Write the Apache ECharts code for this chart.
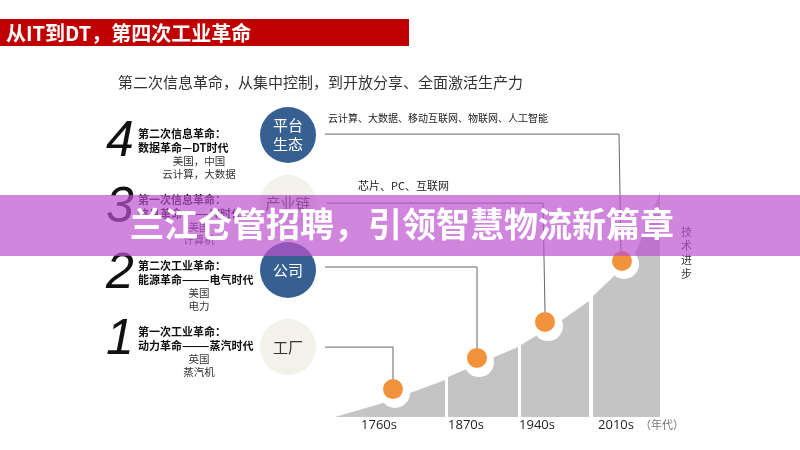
<!DOCTYPE html>
<html>
<head>
<meta charset="utf-8">
<script src="https://cdn.jsdelivr.net/npm/echarts@6/dist/echarts.min.js"></script>
<style>
html, body { margin: 0; padding: 0; background: #fff; }
#main { width: 800px; height: 450px; }
</style>
</head>
<body>
<div id="main"></div>
<script>
// x = position along the axis (0-100), y = technology level (0-100)
var band1 = [[18.75, 0], [30.75, 4.7], [37.5, 8], [46.25, 12.3]];
var band2 = [[47, 13.3], [64.5, 23.3]];
var band3 = [[65.25, 24], [75.5, 32.3], [82.25, 38.7]];
var band4 = [[83.25, 40.3], [88.25, 46.7], [94.25, 55.7], [100, 75]];
var milestones = [[33.25, 9.3], [54.25, 19.7], [71.25, 31.7], [90.5, 52]];
var halos = [[33.75, 8], [54.75, 18.3], [72, 30.3], [91, 51]];

var decadeLabels = ['1760s', '1870s', '1940s', '2010s'];
var decadeTicks = [29.75, 51.5, 69.25, 89];

var stageNames = ['平台\n生态', '产业链', '公司', '工厂'];
var stageLevels = [94, 71.3, 49, 23.3];
var stageX = 7;

var leader4 = [[16.25, 94.3], [89.75, 94.3], [90.25, 54]];
var leader3 = [[16.75, 71.3], [70.75, 71.3], [71.25, 35]];
var leader2 = [[16.25, 50], [54.25, 50], [54.25, 22.3]];
var leader1 = [[16.25, 23.3], [33.25, 23.3], [33.25, 12.3]];

var titleText = '从IT到DT，第四次工业革命';
var subtitleText = '第二次信息革命，从集中控制，到开放分享、全面激活生产力';
var headlineText = '兰江仓管招聘，引领智慧物流新篇章';
var topNote = '云计算、大数据、移动互联网、物联网、人工智能';
var secondNote = '芯片、PC、互联网';
var revolutions = [
	['4', '第二次信息革命：', '数据革命—DT时代', '美国，中国', '云计算，大数据'],
	['3', '第一次信息革命：', '信息革命———IT时代', '美国', '计算机'],
	['2', '第二次工业革命：', '能源革命———电气时代', '美国', '电力'],
	['1', '第一次工业革命：', '动力革命———蒸汽时代', '英国', '蒸汽机']
];

var cjk = '"Noto Sans CJK SC", sans-serif';
var revolutionTop = [134, 200, 266, 332];

function text(str, x, y, size, color, extra) {
	var style = { text: str, x: x, y: y, fill: color, font: size + 'px ' + cjk, textVerticalAlign: 'middle' };
	for (var k in extra) style[k] = extra[k];
	return { type: 'text', z: 5, silent: true, style: style };
}

var graphics = [
	{ type: 'rect', z: 5, shape: { x: 0, y: 19, width: 409, height: 27 }, style: { fill: '#C00000' } },
	text(titleText, 6, 33, 20, '#fff', { font: 'bold 20px ' + cjk }),
	text(subtitleText, 118, 82, 15, '#333'),
	text(topNote, 328, 118, 10, '#222'),
	text(secondNote, 358, 186, 11, '#222'),
	text('技\n术\n进\n步', 681, 253, 11, '#333', { lineHeight: 14 }),
	text('（年代）', 640, 425, 11, '#777')
];
revolutions.forEach(function (r, i) {
	var top = revolutionTop[i];
	graphics.push(text(r[0], 106, top + 8, 50, '#111', { font: 'italic 50px "Liberation Sans", sans-serif' }));
	graphics.push(text(r[1], 138, top, 11, '#111', { font: 'bold 11px ' + cjk }));
	graphics.push(text(r[2], 138, top + 14, 11, '#111', { font: 'bold 11px ' + cjk }));
	graphics.push(text(r[3], 199, top + 27, 10.5, '#333', { textAlign: 'center' }));
	graphics.push(text(r[4], 199, top + 40, 10.5, '#333', { textAlign: 'center' }));
});
graphics.push({ type: 'rect', z: 50, silent: true, shape: { x: 0, y: 195, width: 800, height: 61 }, style: { fill: 'rgba(186,83,205,0.7)' } });
graphics.push(text(headlineText, 130, 224, 34, '#fff', { font: 'bold 34px ' + cjk }));
graphics[graphics.length - 1].z = 51;

function area(data) {
	return {
		type: 'line', data: data, symbol: 'none', z: 1,
		lineStyle: { width: 0 }, itemStyle: { color: '#C4C4C4' },
		areaStyle: { color: '#C4C4C4', opacity: 1 }
	};
}
function leader(data) {
	return {
		type: 'line', data: data, symbol: 'none', z: 3, clip: false,
		lineStyle: { width: 1, color: '#666' }
	};
}

var stageData = stageNames.map(function (name, i) {
	var blue = i == 0 || i == 2;
	return {
		value: [stageX, stageLevels[i]],
		name: name,
		itemStyle: { color: blue ? '#366092' : '#F2F1EA' },
		label: { color: blue ? '#fff' : '#333' }
	};
});

var chart = echarts.init(document.getElementById('main'));
chart.setOption({
	animation: false,
	backgroundColor: '#fff',
	grid: { left: 260, right: 140, top: 117, bottom: 33 },
	xAxis: {
		type: 'value', min: 0, max: 100,
		splitLine: { show: false },
		axisLine: { show: false },
		axisTick: { show: false },
		axisLabel: {
			customValues: decadeTicks,
			color: '#222', fontSize: 13, margin: 2,
			fontFamily: '"Open Sans", sans-serif',
			formatter: function (v) {
				return decadeLabels[decadeTicks.indexOf(v)];
			}
		}
	},
	yAxis: { type: 'value', min: 0, max: 100, show: false },
	series: [
		area(band1), area(band2), area(band3), area(band4),
		{
			type: 'scatter', data: halos, symbolSize: 30, z: 2, clip: false,
			itemStyle: { color: '#fff', opacity: 1 }
		},
		leader(leader4), leader(leader3), leader(leader2), leader(leader1),
		{
			type: 'scatter', data: milestones, symbolSize: 20, z: 4, clip: false,
			itemStyle: { color: '#F2923C', opacity: 1 }
		},
		{
			type: 'scatter', data: stageData, symbolSize: 56, z: 4, clip: false,
			itemStyle: { opacity: 1 },
			label: {
				show: true, position: 'inside', fontSize: 15, lineHeight: 19,
				fontFamily: cjk,
				formatter: function (p) { return p.name; }
			}
		}
	],
	graphic: { elements: graphics }
});
</script>
</body>
</html>
